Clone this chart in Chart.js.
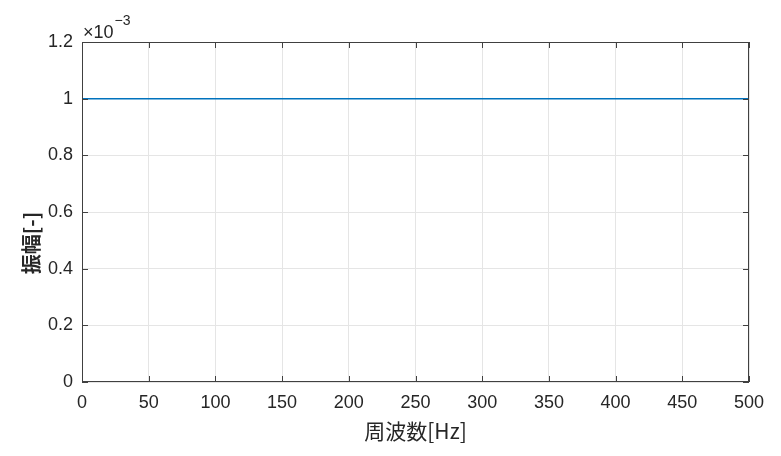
<!DOCTYPE html>
<html>
<head>
<meta charset="utf-8">
<script src="https://cdn.jsdelivr.net/npm/chart.js@4/dist/chart.umd.min.js"></script>
<style>
  html, body { margin: 0; padding: 0; background: #fff; }
  #wrap { width: 781px; height: 456px; }
</style>
</head>
<body>
<div id="wrap"><canvas id="ampChart"></canvas></div>
<script>
// frequency [Hz] and amplitude [-]
const freq = [0, 50, 100, 150, 200, 250, 300, 350, 400, 450, 500];
const amp = [0.001, 0.001, 0.001, 0.001, 0.001, 0.001, 0.001, 0.001, 0.001, 0.001, 0.001];
const xTicks = [0, 50, 100, 150, 200, 250, 300, 350, 400, 450, 500];
const yTicks = [0, 0.0002, 0.0004, 0.0006, 0.0008, 0.001, 0.0012];

const tickFont = { family: "Liberation Sans, Arial, sans-serif", size: 18 };
const axisColor = "#404040";
const textColor = "#262626";

// box, inward ticks, axis titles and the x10^-3 label, MATLAB style
const matlabAxes = {
  id: "matlabAxes",
  afterDraw(chart) {
    const { ctx, chartArea: a, scales } = chart;
    ctx.save();
    ctx.strokeStyle = axisColor;
    ctx.lineWidth = 1;
    ctx.strokeRect(a.left + 0.5, a.top + 0.5, a.right - a.left - 1, a.bottom - a.top - 1);
    ctx.beginPath();
    xTicks.forEach((v) => {
      const px = Math.round(scales.x.getPixelForValue(v)) + 0.5;
      ctx.moveTo(px, a.bottom); ctx.lineTo(px, a.bottom - 6);
      ctx.moveTo(px, a.top); ctx.lineTo(px, a.top + 6);
    });
    yTicks.forEach((v) => {
      const py = Math.round(scales.y.getPixelForValue(v)) + 0.5;
      ctx.moveTo(a.left, py); ctx.lineTo(a.left + 6, py);
      ctx.moveTo(a.right, py); ctx.lineTo(a.right - 6, py);
    });
    ctx.stroke();

    ctx.fillStyle = textColor;
    ctx.textAlign = "left";
    ctx.textBaseline = "alphabetic";
    ctx.font = "18px Liberation Sans, Arial, sans-serif";
    ctx.fillText("×10", a.left + 1, a.top - 4);
    const w = ctx.measureText("×10").width;
    ctx.font = "14px Liberation Sans, Arial, sans-serif";
    ctx.fillText("−3", a.left + 2 + w, a.top - 17);

    // axis titles
    ctx.textAlign = "center";
    ctx.textBaseline = "middle";
    ctx.font = "21px Noto Sans CJK JP";
    ctx.fillText("周波数[Hz]", (a.left + a.right) / 2, 431);
    ctx.translate(31, 243);
    ctx.rotate(-Math.PI / 2);
    ctx.font = "bold 20px Noto Sans CJK JP";
    ctx.fillText("振幅[-]", 0, 0);
    ctx.restore();
  }
};

new Chart(document.getElementById("ampChart"), {
  type: "line",
  data: {
    datasets: [{
      data: freq.map((f, i) => ({ x: f, y: amp[i] })),
      borderColor: "#0072BD",
      borderWidth: 1.5,
      pointRadius: 0,
      fill: false,
      tension: 0
    }]
  },
  options: {
    responsive: true,
    maintainAspectRatio: false,
    animation: false,
    layout: { padding: { top: 42, right: 32, left: 0, bottom: 0 } },
    plugins: { legend: { display: false }, tooltip: { enabled: false } },
    scales: {
      x: {
        type: "linear",
        min: 0,
        max: 500,
        afterFit: (s) => { s.height = 74; },
        afterBuildTicks: (s) => { s.ticks = xTicks.map((v) => ({ value: v })); },
        grid: { color: "#e5e5e5", drawTicks: false },
        border: { display: false },
        ticks: { color: textColor, font: tickFont, padding: 10, maxRotation: 0 }
      },
      y: {
        min: 0,
        max: 0.0012,
        afterFit: (s) => { s.width = 82; },
        afterBuildTicks: (s) => { s.ticks = yTicks.map((v) => ({ value: v })); },
        grid: { color: "#e5e5e5", drawTicks: false },
        border: { display: false },
        ticks: {
          color: textColor,
          font: tickFont,
          padding: 9,
          callback: (v) => String(Math.round(v * 10000) / 10)
        }
      }
    }
  },
  plugins: [matlabAxes]
});
</script>
</body>
</html>
